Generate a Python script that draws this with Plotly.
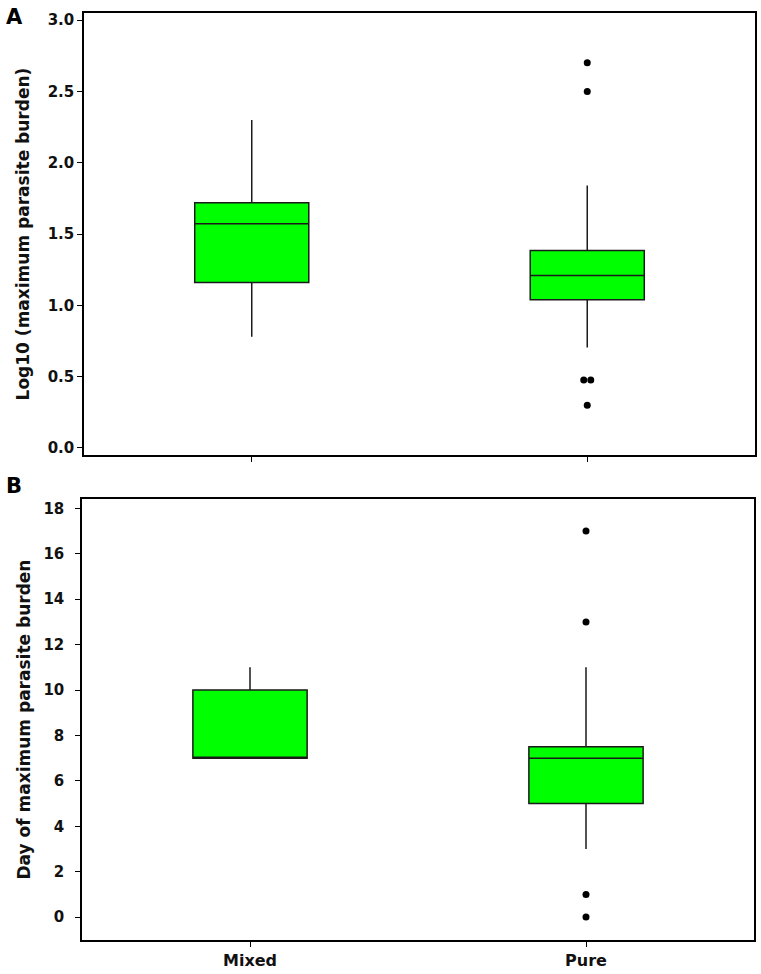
import plotly.graph_objects as go

# ---- data ----
categories = ["Mixed", "Pure"]

# Panel A: Log10 (maximum parasite burden)
a_lowerfence = [0.78, 0.705]
a_q1 = [1.16, 1.04]
a_median = [1.572, 1.21]
a_q3 = [1.72, 1.384]
a_upperfence = [2.30, 1.84]
a_outliers = [[], [2.70, 2.50, 0.477, 0.477, 0.30]]

# Panel B: Day of maximum parasite burden
b_lowerfence = [7, 3]
b_q1 = [7, 5]
b_median = [7, 7]
b_q3 = [10, 7.5]
b_upperfence = [11, 11]
b_outliers = [[], [17, 13, 1, 0]]

FONT = "DejaVu Sans, Verdana, sans-serif"
GREEN = "#00FF00"
EDGE = "#1a1a1a"

fig = go.Figure()


def add_panel(xa, ya, lf, q1, med, q3, uf, outl):
    for i, cat in enumerate(categories):
        fig.add_trace(go.Box(
            x=[i], lowerfence=[lf[i]], q1=[q1[i]], median=[med[i]],
            q3=[q3[i]], upperfence=[uf[i]],
            width=0.34, whiskerwidth=0, fillcolor=GREEN,
            line=dict(color=EDGE, width=1.5), boxpoints=False,
            xaxis=xa, yaxis=ya, showlegend=False, hoverinfo="skip"))
        vals = outl[i]
        if vals:
            xs = []
            for j, v in enumerate(vals):
                same = [k for k, w in enumerate(vals) if w == v]
                n = len(same)
                r = same.index(j)
                xs.append(i + (r - (n - 1) / 2) * 0.021)
            fig.add_trace(go.Scatter(
                x=xs, y=vals, mode="markers",
                marker=dict(color="black", size=7),
                xaxis=xa, yaxis=ya, showlegend=False, hoverinfo="skip"))


add_panel("x", "y", a_lowerfence, a_q1, a_median, a_q3, a_upperfence, a_outliers)
add_panel("x2", "y2", b_lowerfence, b_q1, b_median, b_q3, b_upperfence, b_outliers)

axis_common = dict(showline=True, linecolor="black", linewidth=1.5, mirror=True,
                   ticks="outside", ticklen=5, tickcolor="black", tickwidth=1,
                   showgrid=False, zeroline=False)

fig.update_layout(
    width=761, height=974,
    margin=dict(l=0, r=0, t=0, b=0),
    paper_bgcolor="white", plot_bgcolor="white",
    font=dict(family=FONT, color="#111111"),
    xaxis=dict(domain=[84 / 761, 755 / 761], anchor="y", range=[-0.5, 1.5],
               tickvals=[0, 1], ticktext=["", ""], **axis_common),
    yaxis=dict(domain=[(974 - 455) / 974, (974 - 11) / 974], anchor="x",
               range=[-0.05, 3.05], dtick=0.5, tick0=0, tickformat=".1f",
               tickfont=dict(size=15, family=FONT),
               title=dict(text="<b>Log10 (maximum parasite burden)</b>",
                          font=dict(size=17, family=FONT), standoff=14),
               **axis_common),
    xaxis2=dict(domain=[82 / 761, 754 / 761], anchor="y2", range=[-0.5, 1.5],
                tickvals=[0, 1], ticktext=["<b>Mixed</b>", "<b>Pure</b>"],
                tickfont=dict(size=16, family=FONT), **axis_common),
    yaxis2=dict(domain=[(974 - 941.7) / 974, (974 - 499.3) / 974], anchor="x2",
                range=[-1, 18.4], dtick=2, tick0=0,
                tickfont=dict(size=15, family=FONT), ticklabelstandoff=8,
                title=dict(text="<b>Day of maximum parasite burden</b>",
                           font=dict(size=17, family=FONT), standoff=8),
                **axis_common),
)

# bold tick labels
fig.update_yaxes(tickprefix="<b>", ticksuffix="</b>")

fig.add_annotation(text="<b>A</b>", x=14 / 761, y=1 - 15.5 / 974, xref="paper", yref="paper",
                   xanchor="center", yanchor="middle", showarrow=False,
                   font=dict(size=21, family=FONT, color="black"))
fig.add_annotation(text="<b>B</b>", x=14 / 761, y=1 - 486 / 974, xref="paper", yref="paper",
                   xanchor="center", yanchor="middle", showarrow=False,
                   font=dict(size=21, family=FONT, color="black"))

fig.write_html("out.html", config={"displayModeBar": False},
               post_script="document.body.style.margin='0';")
